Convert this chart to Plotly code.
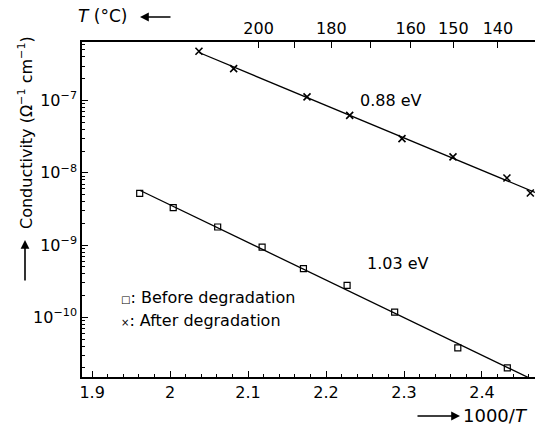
import numpy as np
import plotly.graph_objects as go

# ---- data ----
before_x = [1.961, 2.004, 2.061, 2.118, 2.171, 2.227, 2.288, 2.369, 2.4325]
before_y = [5.2e-9, 3.30e-9, 1.78e-9, 9.4e-10, 4.73e-10, 2.78e-10, 1.18e-10, 3.78e-11, 2.0e-11]
after_x = [2.037, 2.0815, 2.1756, 2.2303, 2.2974, 2.3628, 2.432, 2.462]
after_y = [4.80e-7, 2.76e-7, 1.12e-7, 6.24e-8, 2.97e-8, 1.66e-8, 8.47e-9, 5.26e-9]

x_tick_vals = [1.9, 2.0, 2.1, 2.2, 2.3, 2.4]
x_tick_text = ["1.9", "2", "2.1", "2.2", "2.3", "2.4"]
y_tick_vals = [1e-10, 1e-9, 1e-8, 1e-7]
y_tick_text = ["10<sup>\u221210</sup>", "10<sup>\u22129</sup>", "10<sup>\u22128</sup>", "10<sup>\u22127</sup>"]
top_temps_c = [200, 180, 160, 150, 140]
top_temp_text = ["200", "180", "160", "150", "140"]
top_minor_temps_c = [190, 170]
energy_labels = ["0.88 eV", "1.03 eV"]

X_RANGE = [1.887, 2.468]
Y_RANGE = [-10.824, -6.191]

W, H = 535, 430
ML, MR, MT, MB = 82, 0, 42, 53
PW, PH = W - ML - MR, H - MT - MB
FONT = "DejaVu Sans"


def pxx(px):
    return (px - ML) / PW


def pyy(py):
    return (H - MB - py) / PH


def fit_line(xs, ys, x_end):
    k, b = np.polyfit(xs, np.log10(ys), 1)
    xl = np.array([min(xs), x_end])
    return xl, 10 ** (k * xl + b)


fig = go.Figure()

bx, by = fit_line(before_x, before_y, X_RANGE[1])
ax_, ay_ = fit_line(after_x, after_y, X_RANGE[1])

fig.add_trace(go.Scatter(x=bx, y=by, mode="lines", line=dict(color="black", width=1.3),
                         showlegend=False, hoverinfo="skip"))
fig.add_trace(go.Scatter(x=ax_, y=ay_, mode="lines", line=dict(color="black", width=1.3),
                         showlegend=False, hoverinfo="skip"))
fig.add_trace(go.Scatter(x=before_x, y=before_y, mode="markers", name="Before degradation",
                         marker=dict(symbol="square-open", size=6, color="black",
                                     line=dict(width=1.2, color="black")),
                         showlegend=False))
fig.add_trace(go.Scatter(x=after_x, y=after_y, mode="markers", name="After degradation",
                         marker=dict(symbol="x-thin", size=7, color="black",
                                     line=dict(width=1.6, color="black")),
                         showlegend=False))
# dummy traces on the top axes
for xa in ("x2", "x3"):
    fig.add_trace(go.Scatter(x=[X_RANGE[0]], y=[1e-8], xaxis=xa, mode="markers",
                             marker=dict(opacity=0), showlegend=False, hoverinfo="skip"))

top_vals = [1000.0 / (t + 273.15) for t in top_temps_c]
top_minor_vals = [1000.0 / (t + 273.15) for t in top_minor_temps_c]

common = dict(showgrid=False, zeroline=False, automargin=False,
              tickfont=dict(size=16, family=FONT, color="black"))

fig.update_layout(
    width=W, height=H,
    margin=dict(l=ML, r=MR, t=MT, b=MB, pad=0),
    paper_bgcolor="white", plot_bgcolor="white",
    font=dict(family=FONT, size=16, color="black"),
    xaxis=dict(range=X_RANGE, tickvals=x_tick_vals, ticktext=x_tick_text,
               showline=True, linecolor="black", linewidth=1.5,
               ticks="inside", ticklen=6, tickwidth=1.2, tickcolor="black",
               minor=dict(ticks="inside", dtick=0.02, tick0=1.9, ticklen=3, tickcolor="black"),
               **common),
    xaxis2=dict(range=X_RANGE, overlaying="x", side="top", anchor="y",
                tickvals=top_vals, ticktext=top_temp_text,
                showline=True, linecolor="black", linewidth=1.5,
                ticks="inside", ticklen=6, tickwidth=1.2, tickcolor="black",
                **common),
    xaxis3=dict(range=X_RANGE, overlaying="x", side="top", anchor="y",
                tickvals=top_minor_vals, showticklabels=False,
                showline=False, ticks="inside", ticklen=6, tickwidth=1.2, tickcolor="black",
                **common),
    yaxis=dict(type="log", range=Y_RANGE, tickvals=y_tick_vals, ticktext=y_tick_text,
               showline=True, linecolor="black", linewidth=1.5,
               ticks="inside", ticklen=6, tickwidth=1.2, tickcolor="black",
               minor=dict(ticks="inside", dtick="D1", ticklen=3, tickcolor="black"),
               **common),
)

ann = [
    dict(x=pxx(391), y=pyy(100), text=energy_labels[0]),
    dict(x=pxx(398), y=pyy(263), text=energy_labels[1]),
    dict(x=pxx(119), y=pyy(297), xanchor="left",
         text="<span style='font-size:10px'>\u25a1</span>: Before degradation"),
    dict(x=pxx(119), y=pyy(320), xanchor="left",
         text="<span style='font-size:10px'>\u00d7</span>: After degradation"),
    dict(x=pxx(530), y=pyy(415), xanchor="right", text="1000/<i>T</i>",
         font=dict(family=FONT, size=18, color="black")),
    dict(x=pxx(76), y=pyy(16), xanchor="left", text="<i>T</i> (\u00b0C)",
         font=dict(family=FONT, size=17, color="black")),
    dict(x=pxx(25), y=pyy(133), textangle=-90,
         text="Conductivity (\u03a9<sup>\u22121</sup> cm<sup>\u22121</sup>)"),
]
for a in ann:
    base = dict(xref="paper", yref="paper", showarrow=False, xanchor="center", yanchor="middle",
                font=dict(family=FONT, size=16, color="black"))
    base.update(a)
    fig.add_annotation(**base)

# pointer arrows (head position, tail offset in px)
arrows = [
    dict(x=pxx(25), y=pyy(240), ax=0, ay=42),     # y-axis title arrow (up)
    dict(x=pxx(460), y=pyy(416), ax=-44, ay=0),   # bottom label arrow (right)
    dict(x=pxx(140), y=pyy(17), ax=32, ay=0),     # top label arrow (left)
]
for a in arrows:
    fig.add_annotation(xref="paper", yref="paper", axref="pixel", ayref="pixel",
                       text="", showarrow=True, arrowhead=2, arrowsize=1.1,
                       arrowwidth=1.6, arrowcolor="black", standoff=0, startstandoff=0, **a)

fig.write_html("out.html",
               config={"displayModeBar": False},
               post_script="document.body.style.margin='0';document.body.style.padding='0';")
